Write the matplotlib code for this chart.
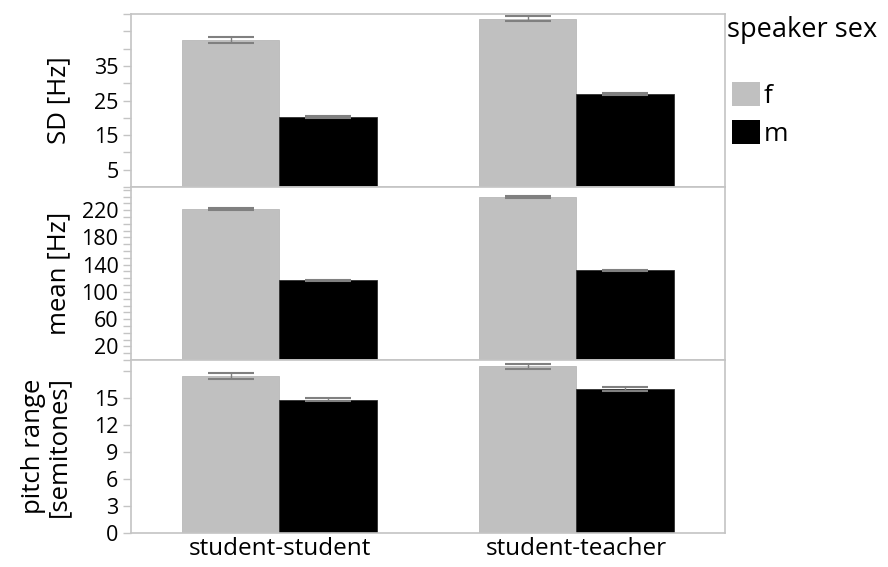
import matplotlib.pyplot as plt
import numpy as np
from matplotlib.patches import Patch

plt.rcParams['font.family'] = ['Open Sans', 'DejaVu Sans']

groups = ['student-student', 'student-teacher']

sd_f = [42.5, 48.7]
sd_f_err = [0.9, 0.6]
sd_m = [20.2, 26.8]
sd_m_err = [0.4, 0.3]

mean_f = [222, 239]
mean_f_err = [1.8, 1.2]
mean_m = [117, 132]
mean_m_err = [0.8, 0.7]

range_f = [17.4, 18.5]
range_f_err = [0.35, 0.3]
range_m = [14.8, 16.0]
range_m_err = [0.2, 0.2]

ylabels = ['SD [Hz]', 'mean [Hz]', 'pitch range\n[semitones]']
ylims = [(0, 50), (0, 254), (0, 19.2)]
tick_step = [5, 10, 3]
label_ticks = [[5, 15, 25, 35], [20, 60, 100, 140, 180, 220], [0, 3, 6, 9, 12, 15]]

light = '#c0c0c0'
frame = '#c4c4c4'
errc = '#808080'

fig, axes = plt.subplots(3, 1, figsize=(8.88, 5.67), dpi=100, sharex=True)
fig.subplots_adjust(left=0.1475, right=0.8164, top=0.9753, bottom=0.06, hspace=0)

x = np.arange(len(groups)) + 0.5
w = 0.327
data = [(sd_f, sd_f_err, sd_m, sd_m_err),
        (mean_f, mean_f_err, mean_m, mean_m_err),
        (range_f, range_f_err, range_m, range_m_err)]

for i, ax in enumerate(axes):
    f, fe, m, me = data[i]
    ax.bar(x - w / 2, f, w, color=light, edgecolor='#b8b8b8', linewidth=0.6)
    ax.bar(x + w / 2, m, w, color='black', edgecolor='#303030', linewidth=0.6)
    ax.errorbar(x - w / 2, f, yerr=fe, fmt='none', ecolor=errc, elinewidth=1,
                capsize=16.5, capthick=1.5)
    ax.errorbar(x + w / 2, m, yerr=me, fmt='none', ecolor=errc, elinewidth=1,
                capsize=16.5, capthick=1.5)
    ax.set_xlim(0, 2)
    lo, hi = ylims[i]
    ax.set_ylim(lo, hi)
    step = tick_step[i]
    ticks = np.arange(0, hi + 0.01, step)
    ax.set_yticks(ticks)
    ax.set_yticklabels([str(int(t)) if int(t) in label_ticks[i] else '' for t in ticks])
    ax.tick_params(axis='y', length=5.5, color=frame, width=1, labelsize=15.5, pad=3.5)
    ax.tick_params(axis='x', length=0)
    for s in ax.spines.values():
        s.set_color(frame)
        s.set_linewidth(1.2)
    ax.set_ylabel(ylabels[i], fontsize=18.5, linespacing=1.05)

for ax in axes:
    ax.yaxis.set_label_coords(-0.1, 0.5)

axes[-1].set_xticks(x)
axes[-1].set_xticklabels(groups, fontsize=17.5)
axes[-1].tick_params(axis='x', pad=3)

fig.text(0.819, 1 - 30 / 567, 'speaker sex', fontsize=19.5, ha='left', va='center')
handles = [Patch(facecolor=light, edgecolor='none', label='f'),
           Patch(facecolor='black', edgecolor='none', label='m')]
leg = fig.legend(handles=handles, loc='upper left',
                 bbox_to_anchor=(732 / 888, 1 - 82 / 567), frameon=False, fontsize=19,
                 handlelength=1.05, handleheight=1.05, borderpad=0, borderaxespad=0,
                 handletextpad=0.15, labelspacing=0.4)

fig.savefig('out.png', dpi=100)
